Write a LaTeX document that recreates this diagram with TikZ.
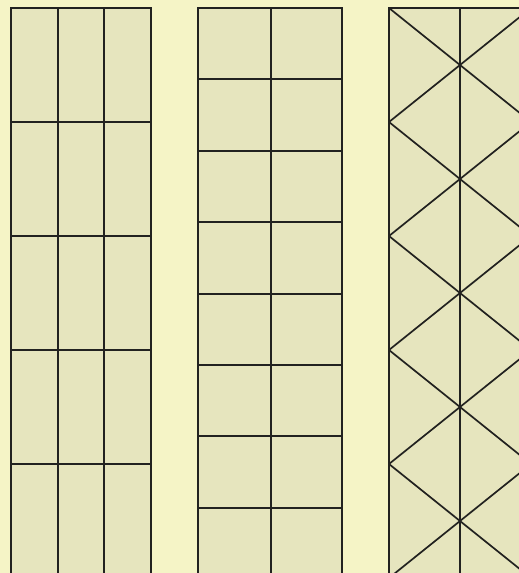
\documentclass[tikz,border=0pt]{standalone}
\usepackage{tikz}

\definecolor{paper}{RGB}{245,244,198}
\definecolor{board}{RGB}{230,229,190}
\definecolor{ink}{RGB}{34,34,32}

\begin{document}
\begin{tikzpicture}[
  x=1pt, y=-1pt,
  board/.style={draw=ink, fill=board, line width=1.9pt},
  rib/.style={draw=ink, line width=1.9pt},
  brace/.style={draw=ink, line width=1.7pt}
]
\fill[paper] (0,0) rectangle (519,573);
\useasboundingbox (0,0) rectangle (519,573);
\clip (0,0) rectangle (519,573);

% left board: three columns, tall rows
\draw[board] (11,8) rectangle (151,600);
\foreach \x in {58,104}
  \draw[rib] (\x,8) -- (\x,600);
\foreach \k in {1,...,4}
  \draw[rib] (11,8+114*\k) -- (151,8+114*\k);

% middle board: two columns, square rows
\draw[board] (198,8) rectangle (342,600);
\draw[rib] (271,8) -- (271,600);
\foreach \k in {1,...,8}
  \draw[rib] (198,8+71.4*\k) -- (342,8+71.4*\k);

% right board: two columns, crossed braces
\draw[board] (389,8) rectangle (531,600);
\draw[rib] (460,8) -- (460,600);
\foreach \k in {0,...,4} {
  \draw[brace] (389,8+114*\k) -- (531,122+114*\k);
  \draw[brace] (389,122+114*\k) -- (531,8+114*\k);
}
\end{tikzpicture}
\end{document}
